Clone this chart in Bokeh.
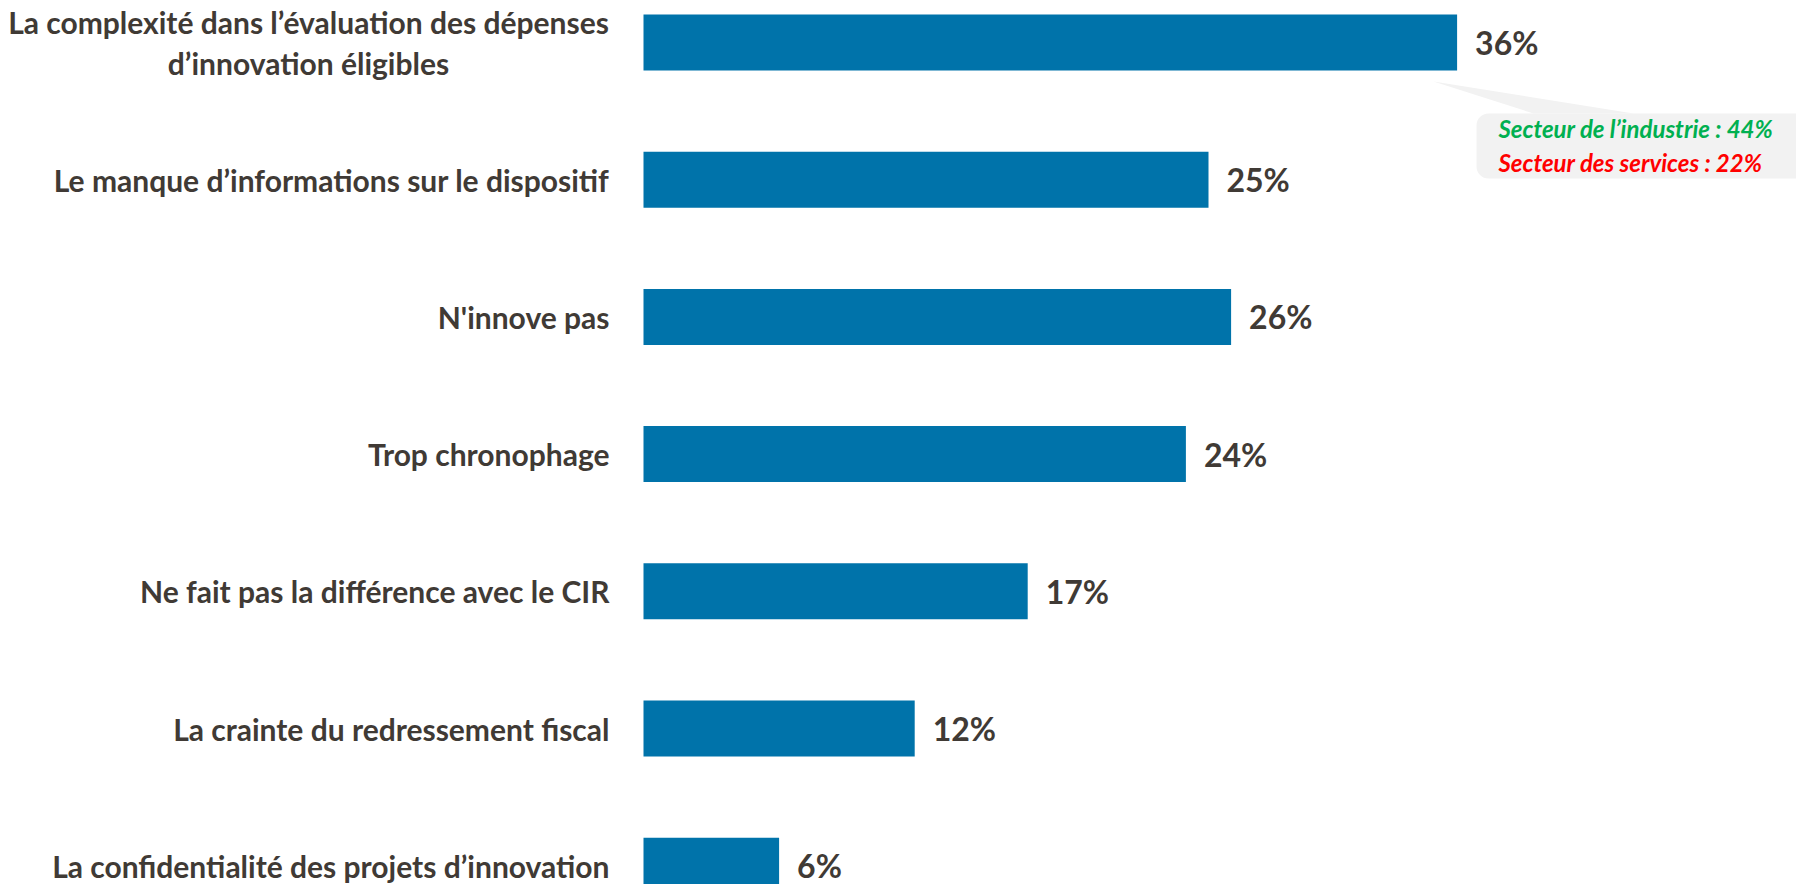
from bokeh.plotting import figure
from bokeh.models import Range1d, ColumnDataSource, BoxAnnotation, PolyAnnotation, Label
from bokeh.core.properties import value
from bokeh.embed import file_html
from bokeh.resources import INLINE

categories = [
    "La complexité dans l’évaluation des dépenses\nd’innovation éligibles",
    "Le manque d’informations sur le dispositif",
    "N'innove pas",
    "Trop chronophage",
    "Ne fait pas la différence avec le CIR",
    "La crainte du redressement fiscal",
    "La confidentialité des projets d’innovation",
]
values = [36, 25, 26, 24, 17, 12, 6]
value_labels = [f"{v}%" for v in values]
callout_lines = ["Secteur de l’industrie : 44%", "Secteur des services : 22%"]
callout_colors = ["#00B050", "#FF0000"]

W, H = 1796, 884
PX_PCT = 22.6          # pixels per percentage point
X0 = 643               # canvas x of zero
ROW = 137.2            # pixels per row
Y0 = 42                # canvas y of first row centre


def dx(px):
    return (px - X0) / PX_PCT


def dy(py):
    return (py - Y0) / ROW


FONT = "Lato"
TEXT_COL = "#403a35"
BAR_COL = "#0073aa"

p = figure(width=W, height=H, output_backend="svg", toolbar_location=None,
           x_range=Range1d(dx(0), dx(W)), y_range=Range1d(dy(H), dy(0)),
           min_border=0, outline_line_color=None)
p.axis.visible = False
p.grid.visible = False
p.background_fill_color = "white"
p.border_fill_color = "white"

ypos = list(range(len(categories)))
src = ColumnDataSource(dict(y=ypos, v=values, lab=value_labels, cat=categories))

p.hbar(y="y", left=0, right="v", height=0.408, source=src,
       fill_color=BAR_COL, line_color=None)

p.text(x="v", y="y", text="lab", source=src, x_offset=18,
       text_font=value(FONT), text_font_style="bold", text_font_size="32px",
       text_color=TEXT_COL, text_align="left", text_baseline="middle")

# category labels
first = ColumnDataSource(dict(y=ypos[:1], cat=categories[:1], x=[0]))
rest = ColumnDataSource(dict(y=ypos[1:], cat=categories[1:], x=[0] * (len(categories) - 1)))
p.text(x="x", y="y", text="cat", source=rest, x_offset=-34,
       text_font=value(FONT), text_font_style="bold", text_font_size="30px",
       text_color=TEXT_COL, text_align="right", text_baseline="middle")
p.text(x="x", y="y", text="cat", source=first, x_offset=-335,
       text_font=value(FONT), text_font_style="bold", text_font_size="30px",
       text_color=TEXT_COL, text_align="center", text_baseline="middle",
       text_line_height=1.15)

# callout
p.add_layout(PolyAnnotation(xs=[dx(1433), dx(1533), dx(1633)], ys=[dy(81), dy(113), dy(113)],
                            fill_color="#f2f2f2", fill_alpha=1, line_color=None))
p.add_layout(BoxAnnotation(left=dx(1476), right=dx(W + 30), top=dy(113), bottom=dy(178),
                           fill_color="#f2f2f2", fill_alpha=1, line_color=None,
                           border_radius=12))
for i, (t, c) in enumerate(zip(callout_lines, callout_colors)):
    p.add_layout(Label(x=dx(1498), y=dy(128 + 34 * i), text=t, text_color=c,
                       text_font=FONT, text_font_style="bold italic",
                       text_font_size="24px", text_baseline="middle",
                       text_align="left"))

open("out.html", "w").write(file_html(p, INLINE))
